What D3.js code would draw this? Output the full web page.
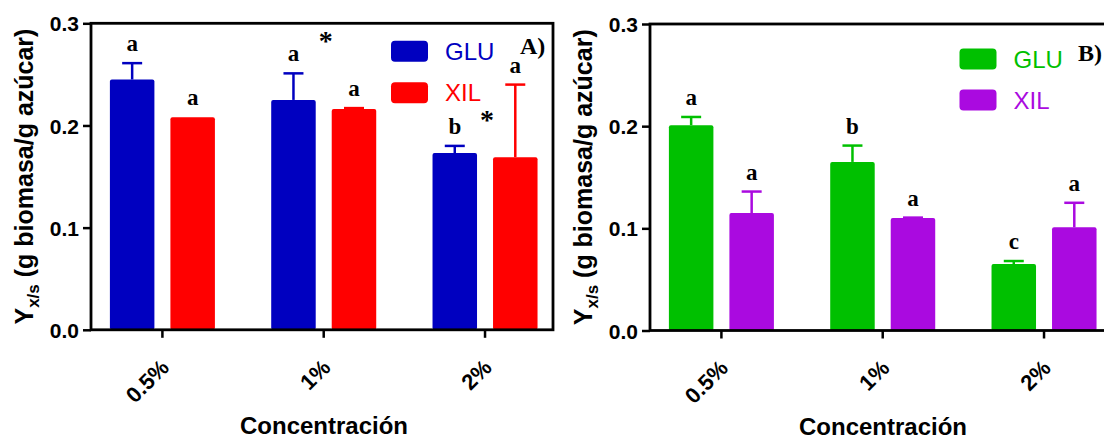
<!DOCTYPE html>
<html>
<head>
<meta charset="utf-8">
<script src="https://cdn.jsdelivr.net/npm/d3@7"></script>
<style>
  html, body { margin: 0; padding: 0; background: #fff; }
  svg { display: block; }
</style>
</head>
<body>
<svg id="chart" width="1104" height="440"></svg>
<script>
// Biomass yield Yx/s for glucose (GLU) and xylose (XIL) at three sugar concentrations
const categories = ["0.5%", "1%", "2%"];
const seriesNames = ["GLU", "XIL"];
const yTicks = [0, 0.1, 0.2, 0.3];

// Panel A
const gluA = [0.245, 0.225, 0.173];
const gluAErr = [0.016, 0.026, 0.007];
const xilA = [0.208, 0.216, 0.169];
const xilAErr = [0, 0.001, 0.071];
const lettersGluA = ["a", "a", "b"];
const lettersXilA = ["a", "a", "a"];
const starCategoriesA = ["1%", "2%"];
const starLevelsA = [0.286, 0.2085];

// Panel B
const gluB = [0.201, 0.165, 0.065];
const gluBErr = [0.008, 0.016, 0.003];
const xilB = [0.115, 0.110, 0.101];
const xilBErr = [0.021, 0.0005, 0.024];
const lettersGluB = ["a", "b", "c"];
const lettersXilB = ["a", "a", "a"];

const sansBold = "'Liberation Sans', Arial, sans-serif";
const serif = "'Liberation Serif', 'Times New Roman', serif";

const svg = d3.select("#chart");

function drawPanel(opt) {
  const W = 462, H = 306.5;
  const g = svg.append("g").attr("transform", `translate(${opt.left},${opt.top})`);

  const x0 = d3.scaleBand().domain(categories).range([0, W])
    .paddingInner(0.349).paddingOuter(0.1065).align(0.55);
  const x1 = d3.scaleBand().domain(seriesNames).range([0, x0.bandwidth()])
    .paddingInner(0.2645).paddingOuter(0);
  const y = d3.scaleLinear().domain([0, 0.3]).range([H, 0]);

  const series = seriesNames.map((name, si) => ({
    name,
    color: opt.colors[si],
    values: opt.values[si],
    errs: opt.errs[si],
    letters: opt.letters[si]
  }));

  // bars
  series.forEach(s => {
    const grp = g.append("g");
    categories.forEach((c, i) => {
      const bx = x0(c) + x1(s.name);
      const bw = x1.bandwidth();
      grp.append("rect")
        .attr("x", bx).attr("y", y(s.values[i]))
        .attr("width", bw).attr("height", H - y(s.values[i]))
        .attr("rx", 2).attr("fill", s.color);
      // upward error bar
      const top = y(s.values[i] + s.errs[i]);
      const cx = bx + bw / 2;
      if (s.errs[i] > 0) {
        grp.append("line").attr("x1", cx).attr("x2", cx)
          .attr("y1", y(s.values[i])).attr("y2", top)
          .attr("stroke", s.color).attr("stroke-width", 2.5);
        grp.append("line").attr("x1", cx - 10).attr("x2", cx + 10)
          .attr("y1", top).attr("y2", top)
          .attr("stroke", s.color).attr("stroke-width", 2.5);
      }
      // significance letter
      grp.append("text")
        .attr("x", cx).attr("y", top - 12)
        .attr("text-anchor", "middle")
        .attr("font-family", serif).attr("font-weight", "bold")
        .attr("font-size", 23).attr("fill", "#000")
        .text(s.letters[i]);
    });
  });

  // asterisks between bars
  (opt.stars || []).forEach(st => {
    g.append("text")
      .attr("x", x0(st.category) + x0.bandwidth() / 2 + 2)
      .attr("y", y(st.level) + 12)
      .attr("text-anchor", "middle")
      .attr("font-family", serif).attr("font-weight", "bold")
      .attr("font-size", 28).attr("fill", "#000")
      .text("*");
  });

  // frame (axes + top/right borders)
  g.append("rect").attr("x", 0).attr("y", 0).attr("width", W).attr("height", H)
    .attr("fill", "none").attr("stroke", "#000").attr("stroke-width", 2.8);

  // y axis
  const yAxis = g.append("g").call(
    d3.axisLeft(y).tickValues(yTicks).tickFormat(d3.format(".1f")).tickSize(8).tickPadding(4)
  );
  yAxis.select(".domain").remove();
  yAxis.selectAll(".tick line").attr("stroke", "#000").attr("stroke-width", 2.5);
  yAxis.selectAll(".tick text")
    .attr("font-family", sansBold).attr("font-weight", "bold")
    .attr("font-size", 21).attr("fill", "#000")
    .attr("dy", "0.36em");

  // x axis
  const xAxis = g.append("g").attr("transform", `translate(0,${H})`).call(
    d3.axisBottom(x0).tickSize(8).tickPadding(4)
  );
  xAxis.select(".domain").remove();
  xAxis.selectAll(".tick line").attr("stroke", "#000").attr("stroke-width", 2.5);
  xAxis.selectAll(".tick text")
    .attr("font-family", sansBold).attr("font-weight", "bold")
    .attr("font-size", 22).attr("fill", "#000")
    .attr("text-anchor", "end")
    .attr("dy", null).attr("y", null)
    .attr("transform", "translate(8,39) rotate(-45)");

  // axis titles
  const yt = g.append("text")
    .attr("transform", `translate(-58,${H / 2}) rotate(-90)`)
    .attr("text-anchor", "middle")
    .attr("font-family", sansBold).attr("font-weight", "bold")
    .attr("font-size", 25).attr("fill", "#000");
  yt.append("tspan").text("Y");
  yt.append("tspan").attr("font-size", 17).attr("dy", 6).text("x/s");
  yt.append("tspan").attr("dy", -6).text(" (g biomasa/g azúcar)");

  g.append("text")
    .attr("x", W / 2 + 2).attr("y", H + 104)
    .attr("text-anchor", "middle")
    .attr("font-family", sansBold).attr("font-weight", "bold")
    .attr("font-size", 24).attr("fill", "#000")
    .text("Concentración");

  // legend
  series.forEach((s, si) => {
    const ly = opt.legend.y + si * opt.legend.gap;
    g.append("rect")
      .attr("x", opt.legend.x).attr("y", ly)
      .attr("width", 37).attr("height", 21).attr("rx", 4)
      .attr("fill", s.color);
    g.append("text")
      .attr("x", opt.legend.x + 54).attr("y", ly + 10.5)
      .attr("dy", "0.36em")
      .attr("font-family", sansBold)
      .attr("font-size", 24).attr("fill", s.color)
      .text(s.name);
  });

  // panel tag
  g.append("text")
    .attr("x", opt.tag.x).attr("y", opt.tag.y)
    .attr("font-family", serif).attr("font-weight", "bold")
    .attr("font-size", 24).attr("fill", "#000")
    .text(opt.tag.text);
}

drawPanel({
  left: 91, top: 23.3,
  colors: ["#0000C0", "#FF0000"],
  values: [gluA, xilA],
  errs: [gluAErr, xilAErr],
  letters: [lettersGluA, lettersXilA],
  stars: starCategoriesA.map((c, i) => ({ category: c, level: starLevelsA[i] })),
  legend: { x: 300, y: 17.5, gap: 41.5 },
  tag: { x: 429, y: 31, text: "A)" }
});

drawPanel({
  left: 650, top: 24,
  colors: ["#00C000", "#AA0AE0"],
  values: [gluB, xilB],
  errs: [gluBErr, xilBErr],
  letters: [lettersGluB, lettersXilB],
  stars: [],
  legend: { x: 309.5, y: 24.5, gap: 41 },
  tag: { x: 428, y: 37, text: "B)" }
});
</script>
</body>
</html>
